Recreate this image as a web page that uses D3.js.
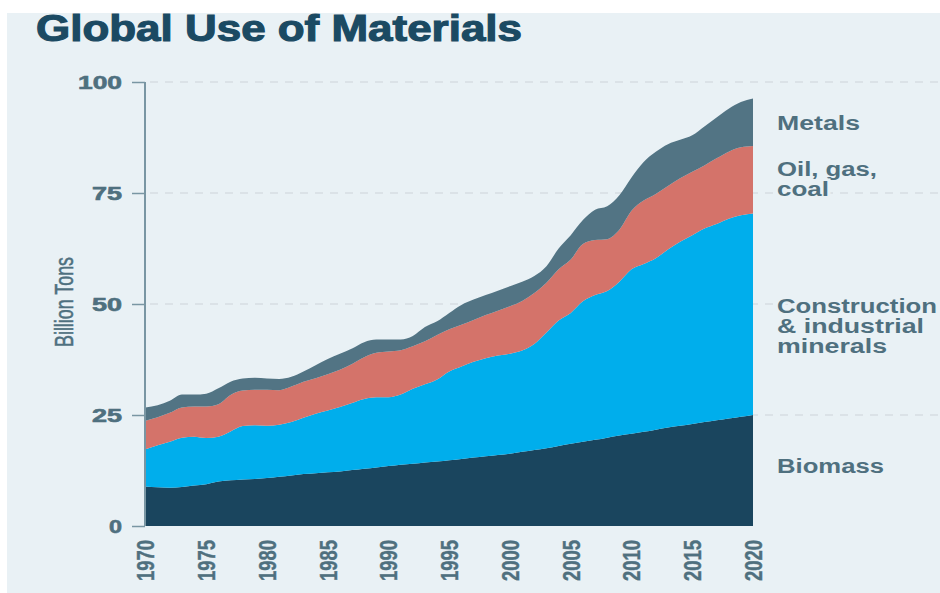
<!DOCTYPE html>
<html>
<head>
<meta charset="utf-8">
<script src="https://cdn.jsdelivr.net/npm/d3@7/dist/d3.min.js"></script>
<style>
  html, body { margin: 0; padding: 0; background: #ffffff; }
  svg { display: block; }
</style>
</head>
<body>
<svg id="chart" width="940" height="593"></svg>
<script>
// Global material extraction, billion tons per year
const years = d3.range(1970, 2021);

const biomass = [
  8.9, 8.7, 8.6, 8.8, 9.1, 9.4, 10.0, 10.3, 10.5, 10.6,
  10.8, 11.1, 11.4, 11.7, 11.9, 12.1, 12.3, 12.6, 12.9, 13.2,
  13.5, 13.8, 14.0, 14.3, 14.5, 14.8, 15.1, 15.4, 15.7, 16.0,
  16.3, 16.7, 17.1, 17.5, 18.0, 18.5, 19.0, 19.4, 19.9, 20.4,
  20.8, 21.2, 21.7, 22.2, 22.6, 23.0, 23.4, 23.8, 24.2, 24.6,
  25.0
];

const construction = [
  8.4, 9.5, 10.4, 11.1, 11.0, 10.4, 10.1, 11.0, 12.0, 12.1,
  11.8, 11.7, 12.0, 12.7, 13.4, 13.9, 14.5, 15.1, 15.7, 15.8,
  15.5, 15.8, 16.9, 17.6, 18.5, 20.0, 20.8, 21.6, 22.1, 22.4,
  22.5, 22.8, 23.9, 26.1, 28.3, 29.5, 31.6, 32.6, 33.0, 34.6,
  37.0, 37.8, 38.6, 40.1, 41.4, 42.5, 43.6, 44.2, 45.0, 45.4,
  45.4
];

const fossil = [
  6.4, 6.3, 6.5, 6.8, 6.8, 7.1, 7.3, 8.2, 8.0, 8.0,
  8.1, 7.8, 8.0, 8.1, 8.0, 8.2, 8.4, 8.8, 9.4, 10.0,
  10.3, 10.0, 9.6, 9.7, 10.0, 9.5, 9.4, 9.4, 9.7, 10.1,
  10.7, 11.2, 11.5, 11.2, 11.5, 12.0, 12.9, 12.4, 11.7, 11.7,
  13.2, 14.3, 14.5, 14.3, 14.3, 14.3, 14.2, 14.8, 15.1, 15.3,
  15.2
];

const metals = [
  3.0, 2.7, 2.7, 2.9, 2.7, 2.9, 3.6, 3.0, 2.7, 2.7,
  2.5, 2.5, 2.2, 2.3, 2.9, 3.4, 3.6, 3.5, 3.4, 3.0,
  2.7, 2.4, 2.3, 3.2, 3.1, 3.7, 4.5, 4.6, 4.5, 4.5,
  4.5, 4.3, 3.8, 3.7, 4.7, 5.5, 5.4, 6.8, 7.4, 7.8,
  7.5, 8.7, 9.5, 9.4, 8.7, 8.2, 8.8, 9.2, 9.7, 10.2,
  10.7
];

const seriesKeys = ["biomass", "construction", "fossil", "metals"];
const seriesColors = ["#1a455e", "#00aeec", "#d4736a", "#527484"];
const labelLines = [
  ["Biomass"],
  ["Construction", "& industrial", "minerals"],
  ["Oil, gas,", "coal"],
  ["Metals"]
];
const yTicks = [0, 25, 50, 75, 100];
const xTicks = d3.range(1970, 2021, 5);

const rows = years.map((yr, i) => ({
  year: yr,
  biomass: biomass[i],
  construction: construction[i],
  fossil: fossil[i],
  metals: metals[i]
}));

const svg = d3.select("#chart");
const W = 940, H = 593;
const bg = "#e9f1f5";
const textColor = "#4f707f";

// panel background (white strip on top and left)
svg.append("rect").attr("x", 7).attr("y", 13).attr("width", W - 7).attr("height", H - 13).attr("fill", bg);

const x = d3.scaleLinear().domain([1970, 2020]).range([145.5, 753]);
const y = d3.scaleLinear().domain([0, 100]).range([526, 82]);

// dashed gridlines
svg.append("g")
  .selectAll("line")
  .data(yTicks.filter(d => d > 0))
  .join("line")
  .attr("x1", 150).attr("x2", 940)
  .attr("y1", d => y(d)).attr("y2", d => y(d))
  .attr("stroke", "#cdd4d9")
  .attr("stroke-width", 1.2)
  .attr("stroke-dasharray", "8,7");

// stacked areas
const stack = d3.stack().keys(seriesKeys);
const layers = stack(rows);
const area = d3.area()
  .x(d => x(d.data.year))
  .y0(d => y(d[0]))
  .y1(d => y(d[1]))
  .curve(d3.curveMonotoneX);

svg.append("g")
  .selectAll("path")
  .data(layers)
  .join("path")
  .attr("d", area)
  .attr("fill", (d, i) => seriesColors[i]);

// y axis
const yAxis = d3.axisLeft(y).tickValues(yTicks).tickSize(13).tickPadding(10).tickFormat(d3.format("d"));
const gy = svg.append("g").attr("transform", "translate(145,0)").call(yAxis);
gy.select(".domain").attr("stroke", "#7996a3").attr("stroke-width", 2).attr("d", `M0,${y(100)}V${y(0)}`);
gy.selectAll(".tick line").attr("stroke", "#7996a3").attr("stroke-width", 1.5);
const yLabelWidth = { 0: 13, 25: 30, 50: 30, 75: 30, 100: 44 };
gy.selectAll(".tick text")
  .attr("fill", textColor)
  .attr("stroke", textColor)
  .attr("stroke-width", 0.6)
  .attr("font-family", "'Liberation Sans', Arial, sans-serif")
  .attr("font-weight", "bold")
  .attr("font-size", 18)
  .attr("dy", "0.36em")
  .attr("textLength", d => yLabelWidth[d])
  .attr("lengthAdjust", "spacingAndGlyphs");

// x axis labels, rotated
const xAxis = d3.axisBottom(x).tickValues(xTicks).tickSize(0).tickFormat(d3.format("d"));
const gx = svg.append("g").attr("transform", "translate(0,526)").call(xAxis);
gx.select(".domain").remove();
gx.selectAll(".tick text")
  .attr("fill", textColor)
  .attr("stroke", textColor)
  .attr("stroke-width", 0.4)
  .attr("font-family", "'Liberation Sans Narrow', 'Liberation Sans', Arial, sans-serif")
  .attr("font-weight", "bold")
  .attr("font-size", 23)
  .attr("transform", "rotate(-90)")
  .attr("text-anchor", "end")
  .attr("x", -14)
  .attr("y", 0)
  .attr("dy", "0.36em")
  .attr("textLength", 41)
  .attr("lengthAdjust", "spacingAndGlyphs");

// y axis title
svg.append("text")
  .attr("transform", "translate(73,302) rotate(-90)")
  .attr("text-anchor", "middle")
  .attr("fill", textColor)
  .attr("stroke", textColor)
  .attr("stroke-width", 0.5)
  .attr("font-family", "'Liberation Sans Narrow', 'Liberation Sans', Arial, sans-serif")
  .attr("font-size", 25)
  .attr("textLength", 90)
  .attr("lengthAdjust", "spacingAndGlyphs")
  .text("Billion Tons");

// title
svg.append("text")
  .attr("x", 36).attr("y", 40.5)
  .attr("fill", "#1b4a63")
  .attr("stroke", "#1b4a63")
  .attr("stroke-width", 1.1)
  .attr("font-family", "'Liberation Sans', Arial, sans-serif")
  .attr("font-weight", "bold")
  .attr("font-size", 36)
  .attr("textLength", 486)
  .attr("lengthAdjust", "spacingAndGlyphs")
  .text("Global Use of Materials");

// series labels at the right edge
const labelBaselines = [[473], [313, 333, 353], [176, 196], [130]];
const labelWidths = {
  "Biomass": 107, "Construction": 160, "& industrial": 147, "minerals": 110,
  "Oil, gas,": 100, "coal": 52, "Metals": 83
};
const lg = svg.append("g");
labelLines.forEach((lines, i) => {
  lines.forEach((line, j) => {
    lg.append("text")
      .attr("x", 777).attr("y", labelBaselines[i][j])
      .attr("fill", textColor)
      .attr("font-family", "'Liberation Sans', Arial, sans-serif")
      .attr("font-weight", "bold")
      .attr("font-size", 20)
      .attr("stroke", bg)
      .attr("stroke-width", 5)
      .attr("paint-order", "stroke")
      .attr("textLength", labelWidths[line])
      .attr("lengthAdjust", "spacingAndGlyphs")
      .text(line);
  });
});
</script>
</body>
</html>
